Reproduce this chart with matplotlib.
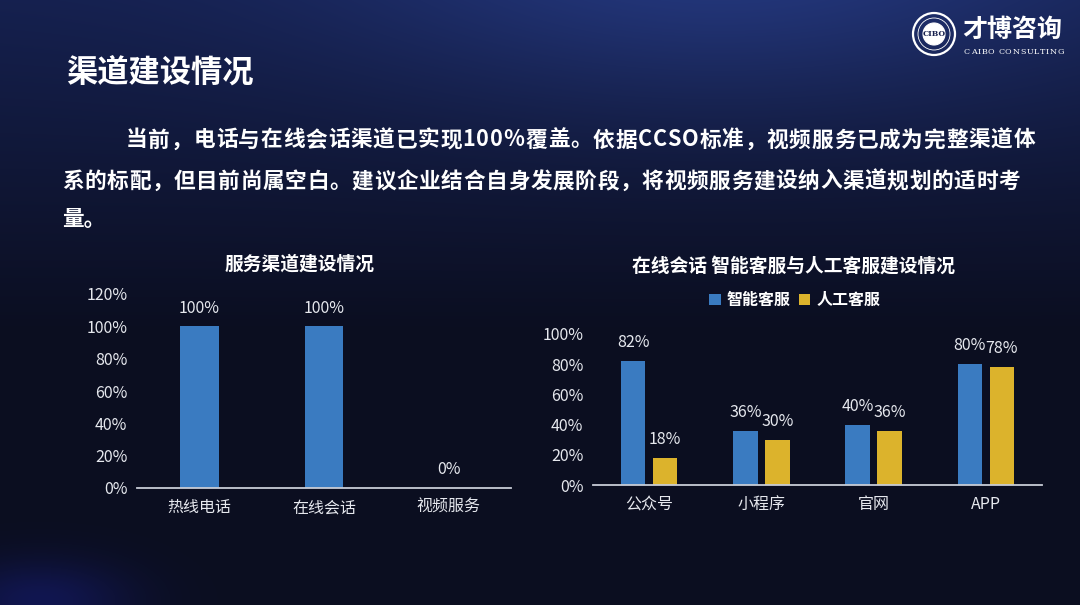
import matplotlib
matplotlib.use("Agg")
import matplotlib.pyplot as plt
import numpy as np
from matplotlib.patches import Circle

plt.rcParams['font.family'] = ['Noto Sans CJK SC', 'DejaVu Sans']

# ---------------- data ----------------
left_title = "服务渠道建设情况"
left_categories = ["热线电话", "在线会话", "视频服务"]
left_values = [100, 100, 0]
left_yticks = [0, 20, 40, 60, 80, 100, 120]

right_title = "在线会话 智能客服与人工客服建设情况"
right_categories = ["公众号", "小程序", "官网", "APP"]
series_names = ["智能客服", "人工客服"]
smart_values = [82, 36, 40, 80]
human_values = [18, 30, 36, 78]
right_yticks = [0, 20, 40, 60, 80, 100]

page_title = "渠道建设情况"
para_lines = [
    "当前，电话与在线会话渠道已实现100%覆盖。依据CCSO标准，视频服务已成为完整渠道体",
    "系的标配，但目前尚属空白。建议企业结合自身发展阶段，将视频服务建设纳入渠道规划的适时考",
    "量。",
]

BLUE = '#3a7bc1'
GOLD = '#dcb32c'
TXT = '#e6e8ee'
AXIS = '#c8ccd6'

W, H = 1080, 605
fig = plt.figure(figsize=(W / 100, H / 100), dpi=100)

def px(x, y):
    return x / W, 1 - y / H

# ---------------- background ----------------
bg = fig.add_axes([0, 0, 1, 1], zorder=-10)
yy, xx = np.mgrid[0:H, 0:W]
top = np.array([0x15, 0x20, 0x4e]) / 255
bot = np.array([0x0b, 0x0e, 0x20]) / 255
t = np.clip(yy / (H * 0.55), 0, 1)[..., None]
img = top * (1 - t) + bot * t
glow = np.exp(-(((xx - 720) / 380) ** 2 + ((yy + 40) / 150) ** 2))[..., None]
img = img + glow * (np.array([0x0e, 0x16, 0x2c]) / 255)
glow2 = np.exp(-(((xx - 40) / 90) ** 2 + ((yy - 600) / 40) ** 2))[..., None]
img = img + glow2 * (np.array([0x06, 0x08, 0x30]) / 255)
bg.imshow(np.clip(img, 0, 1), aspect='auto', extent=[0, 1, 0, 1])
bg.set_axis_off()

# ---------------- header texts ----------------
fig.text(*px(66, 73), page_title, color='white', fontsize=22.5, fontweight='bold',
         ha='left', va='center')

renderer = fig.canvas.get_renderer()

def justified(line, x0, x1, y, size, weight='bold', family=None):
    """Lay out a line character by character, spreading it from x0 to x1 (pixels)."""
    texts, widths = [], []
    for ch in line:
        kw = {} if family is None else {'family': family}
        tx = fig.text(0, 0, ch, color='white', fontsize=size, fontweight=weight,
                      ha='left', va='center', **kw)
        widths.append(tx.get_window_extent(renderer).width if ch.strip() else size * 0.35)
        texts.append(tx)
    extra = (x1 - x0 - sum(widths)) / max(len(line) - 1, 1)
    x = x0
    for tx, w in zip(texts, widths):
        tx.set_position(px(x, y))
        x += w + extra

justified(para_lines[0], 126, 1035, 140, 15.6)
justified(para_lines[1], 62, 1020, 181, 15.6)
fig.text(*px(62, 220), para_lines[2], color='white', fontsize=15.6, fontweight='bold',
         ha='left', va='center')

# ---------------- logo ----------------
lg = fig.add_axes([0, 0, 1, 1], zorder=-5)
lg.set_xlim(0, W); lg.set_ylim(H, 0); lg.set_axis_off()
lg.add_patch(Circle((934, 34), 21, fill=False, ec='white', lw=1.6))
lg.add_patch(Circle((934, 34), 16, fill=False, ec='white', lw=0.6))
lg.add_patch(Circle((934, 34), 11, fill=True, fc='white', ec='white', lw=0.8))
lg.text(934, 34.5, "CIBO", color='#17204d', fontsize=5.5, fontweight='bold',
        ha='center', va='center', family='DejaVu Serif')
lg.text(962, 30, "才博咨询", color='white', fontsize=18, fontweight='bold',
        ha='left', va='center')
justified("CAIBO CONSULTING", 964, 1064, 52, 5.8, weight='normal', family='DejaVu Serif')

# ---------------- left chart ----------------
axL = fig.add_axes([137 / W, 1 - 488 / H, 374 / W, 194 / H])
axL.set_facecolor('none')
xl = np.arange(len(left_categories))
barsL = axL.bar(xl, left_values, width=0.31, color=BLUE, zorder=2)
axL.set_xlim(-0.5, len(left_categories) - 0.5)
axL.set_ylim(0, 120)
axL.set_yticks(left_yticks)
axL.set_yticklabels([f"{v}%" for v in left_yticks])
axL.set_xticks(xl)
axL.set_xticklabels(left_categories)
for s in ['top', 'right', 'left']:
    axL.spines[s].set_visible(False)
axL.spines['bottom'].set_color(AXIS)
axL.spines['bottom'].set_linewidth(1.3)
axL.tick_params(axis='y', length=0, pad=7, labelsize=11.5, labelcolor=TXT)
axL.tick_params(axis='x', length=0, pad=8, labelsize=11.5, labelcolor=TXT)
for b, v in zip(barsL, left_values):
    axL.annotate(f"{v}%", (b.get_x() + b.get_width() / 2, v), xytext=(0, 7),
                 textcoords='offset points', ha='center', va='bottom',
                 color=TXT, fontsize=11.5, annotation_clip=False)
fig.text(*px(300, 264), left_title, color='white', fontsize=13.5, fontweight='bold',
         ha='center', va='center')

# ---------------- right chart ----------------
axR = fig.add_axes([593 / W, 1 - 485 / H, 449 / W, 151 / H])
axR.set_facecolor('none')
xr = np.arange(len(right_categories))
bw, off = 0.22, 0.1425
b1 = axR.bar(xr - off, smart_values, width=bw, color=BLUE, zorder=2, label=series_names[0])
b2 = axR.bar(xr + off, human_values, width=bw, color=GOLD, zorder=2, label=series_names[1])
axR.set_xlim(-0.5, len(right_categories) - 0.5)
axR.set_ylim(0, 100)
axR.set_yticks(right_yticks)
axR.set_yticklabels([f"{v}%" for v in right_yticks])
axR.set_xticks(xr)
axR.set_xticklabels(right_categories)
for s in ['top', 'right', 'left']:
    axR.spines[s].set_visible(False)
axR.spines['bottom'].set_color(AXIS)
axR.spines['bottom'].set_linewidth(1.3)
axR.tick_params(axis='y', length=0, pad=7, labelsize=11.5, labelcolor=TXT)
axR.tick_params(axis='x', length=0, pad=8, labelsize=11.5, labelcolor=TXT)
for bars, vals in ((b1, smart_values), (b2, human_values)):
    for b, v in zip(bars, vals):
        axR.annotate(f"{v}%", (b.get_x() + b.get_width() / 2, v), xytext=(0, 7),
                     textcoords='offset points', ha='center', va='bottom',
                     color=TXT, fontsize=11.5, annotation_clip=False)
fig.text(*px(793, 266), right_title, color='white', fontsize=13.5, fontweight='bold',
         ha='center', va='center')
leg = fig.legend(handles=[b1, b2], labels=series_names, loc='center',
                 bbox_to_anchor=px(795, 300), ncol=2, frameon=False,
                 handlelength=0.7, handleheight=0.7, handletextpad=0.4, columnspacing=0.5,
                 prop={'size': 11.5, 'weight': 'bold'})
for tx in leg.get_texts():
    tx.set_color('white')

fig.savefig("out.png", dpi=100, facecolor=fig.get_facecolor())
